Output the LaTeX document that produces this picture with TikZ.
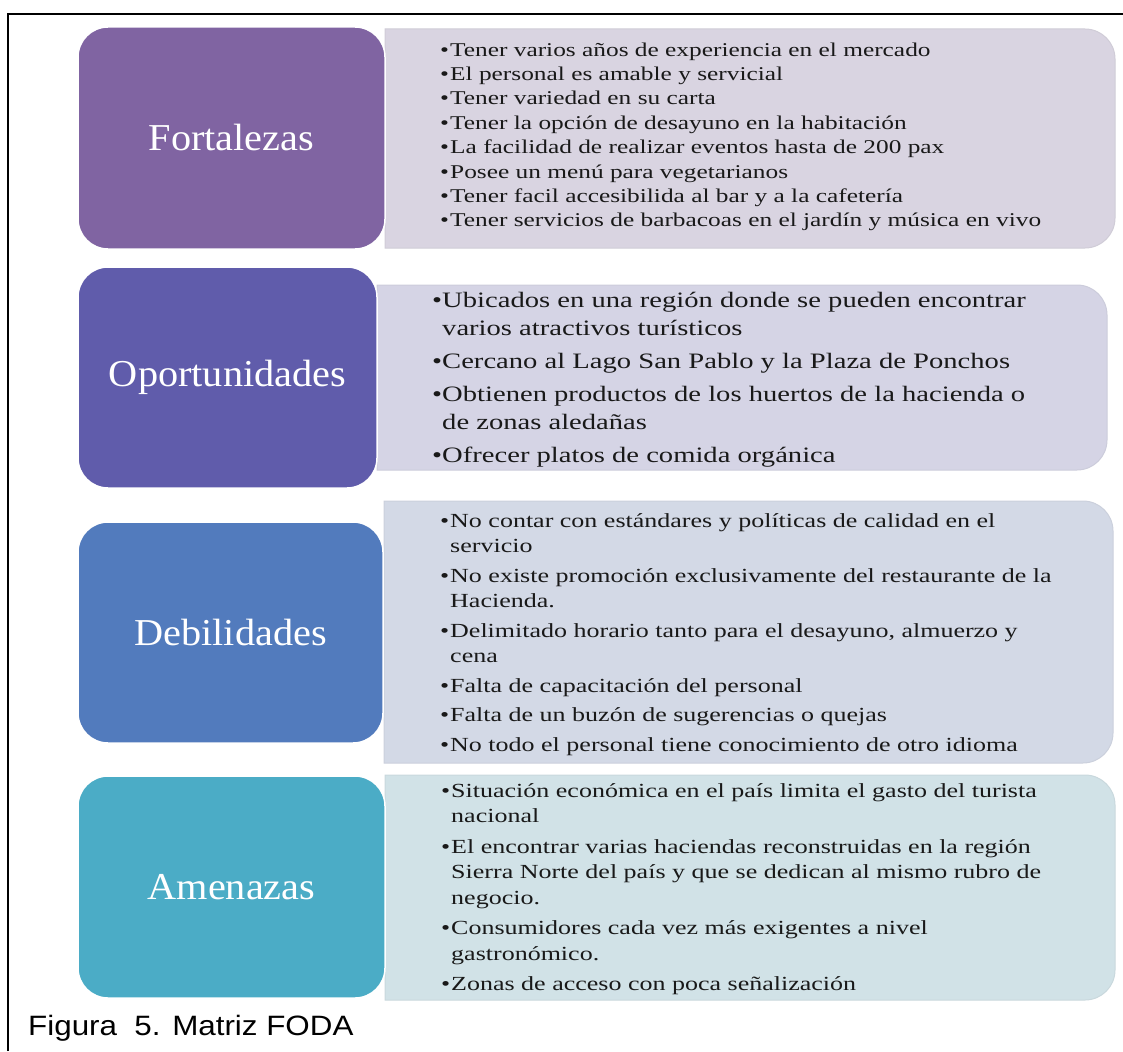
\documentclass[tikz,border=0pt]{standalone}
\usepackage{fontspec}
\setmainfont{Liberation Serif}
\newfontfamily\headfont[FakeStretch=1.06]{Liberation Serif}
\newfontfamily\listfont[FakeStretch=1.3]{Liberation Serif}
\newfontfamily\capfont[FakeStretch=1.12]{Liberation Sans}
\definecolor{fortcol}{RGB}{128,100,162}
\definecolor{oportcol}{RGB}{96,92,171}
\definecolor{debilcol}{RGB}{82,123,189}
\definecolor{amencol}{RGB}{75,172,198}
\definecolor{fortlt}{RGB}{217,212,225}
\definecolor{oportlt}{RGB}{213,212,229}
\definecolor{debillt}{RGB}{211,217,230}
\definecolor{amenlt}{RGB}{209,226,231}
\newcommand{\bul}{\makebox[10pt][l]{\textbullet}}
\newcommand{\sig}{\hspace*{10pt}}

\begin{document}
\begin{tikzpicture}[
    x=1pt, y=-1pt,
    headbox/.style={rounded corners=30pt, draw=white, line width=1.5pt,
        text=white, inner sep=0pt,
        font=\headfont\fontsize{38}{40}\selectfont},
    listbox/.style={fill=#1, draw=#1!90!gray, line width=1pt},
    listtext/.style={anchor=north west, inner sep=0pt, align=left, text=black!90}
    ]

\useasboundingbox (0,0) rectangle (1123,1051);

% frame
\draw[line width=2pt] (8,1051) -- (8,14) -- (1123,14);

% Fortalezas
\path[listbox=fortlt] (385,29) -- (750,29) [rounded corners=30pt] -- (1115,29) -- (1115,248) -- (750,248) [sharp corners] -- (385,248) -- cycle;
\node[headbox, fill=fortcol, minimum width=307pt, minimum height=222pt] (fort) at (231.5,138) {Fortalezas};
\node[listtext, font=\listfont\fontsize{19.5}{24.4}\selectfont] (fort-list) at (440,38.9) {%
\strut\bul Tener varios años de experiencia en el mercado\\
\bul El personal es amable y servicial\\
\bul Tener variedad en su carta\\
\bul Tener la opción de desayuno en la habitación\\
\bul La facilidad de realizar eventos hasta de 200 pax\\
\bul Posee un menú para vegetarianos\\
\bul Tener facil accesibilida al bar y a la cafetería\\
\bul Tener servicios de barbacoas en el jardín y música en vivo};

% Oportunidades
\path[listbox=oportlt] (377,285) -- (740,285) [rounded corners=30pt] -- (1107,285) -- (1107,470) -- (740,470) [sharp corners] -- (377,470) -- cycle;
\node[headbox, fill=oportcol, minimum width=299pt, minimum height=221pt] (oport) at (227.5,377.5) {Oportunidades};
\node[listtext, font=\listfont\fontsize{22}{28}\selectfont] (oport-list) at (432,287.4) {%
\strut\bul Ubicados en una región donde se pueden encontrar\\
\sig varios atractivos turísticos\\[5pt]
\bul Cercano al Lago San Pablo y la Plaza de Ponchos\\[5pt]
\bul Obtienen productos de los huertos de la hacienda o\\
\sig de zonas aledañas\\[5pt]
\bul Ofrecer platos de comida orgánica};

% Debilidades
\path[listbox=debillt] (384,501) -- (750,501) [rounded corners=30pt] -- (1113,501) -- (1113,763) -- (750,763) [sharp corners] -- (384,763) -- cycle;
\node[headbox, fill=debilcol, minimum width=305pt, minimum height=221pt] (debil) at (230.5,632.5) {Debilidades};
\node[listtext, font=\listfont\fontsize{20}{25}\selectfont] (debil-list) at (440,509.5) {%
\strut\bul No contar con estándares y políticas de calidad en el\\
\sig servicio\\[5pt]
\bul No existe promoción exclusivamente del restaurante de la\\
\sig Hacienda.\\[5pt]
\bul Delimitado horario tanto para el desayuno, almuerzo y\\
\sig cena\\[5pt]
\bul Falta de capacitación del personal\\[4.5pt]
\bul Falta de un buzón de sugerencias o quejas\\[4.5pt]
\bul No todo el personal tiene conocimiento de otro idioma};

% Amenazas
\path[listbox=amenlt] (385,775) -- (750,775) [rounded corners=30pt] -- (1115,775) -- (1115,1000) -- (750,1000) [sharp corners] -- (385,1000) -- cycle;
\node[headbox, fill=amencol, minimum width=307pt, minimum height=222pt] (amen) at (231.5,887) {Amenazas};
\node[listtext, font=\listfont\fontsize{20}{25.5}\selectfont] (amen-list) at (441,779.1) {%
\strut\bul Situación económica en el país limita el gasto del turista\\
\sig nacional\\[5pt]
\bul El encontrar varias haciendas reconstruidas en la región\\
\sig Sierra Norte del país y que se dedican al mismo rubro de\\
\sig negocio.\\[5pt]
\bul Consumidores cada vez más exigentes a nivel\\
\sig gastronómico.\\[5pt]
\bul Zonas de acceso con poca señalización};

% caption
\node[anchor=base west, inner sep=0pt, font=\capfont\fontsize{28}{30}\selectfont] (caption) at (28,1035) {Figura\ \ 5. Matriz FODA};

\end{tikzpicture}
\end{document}
